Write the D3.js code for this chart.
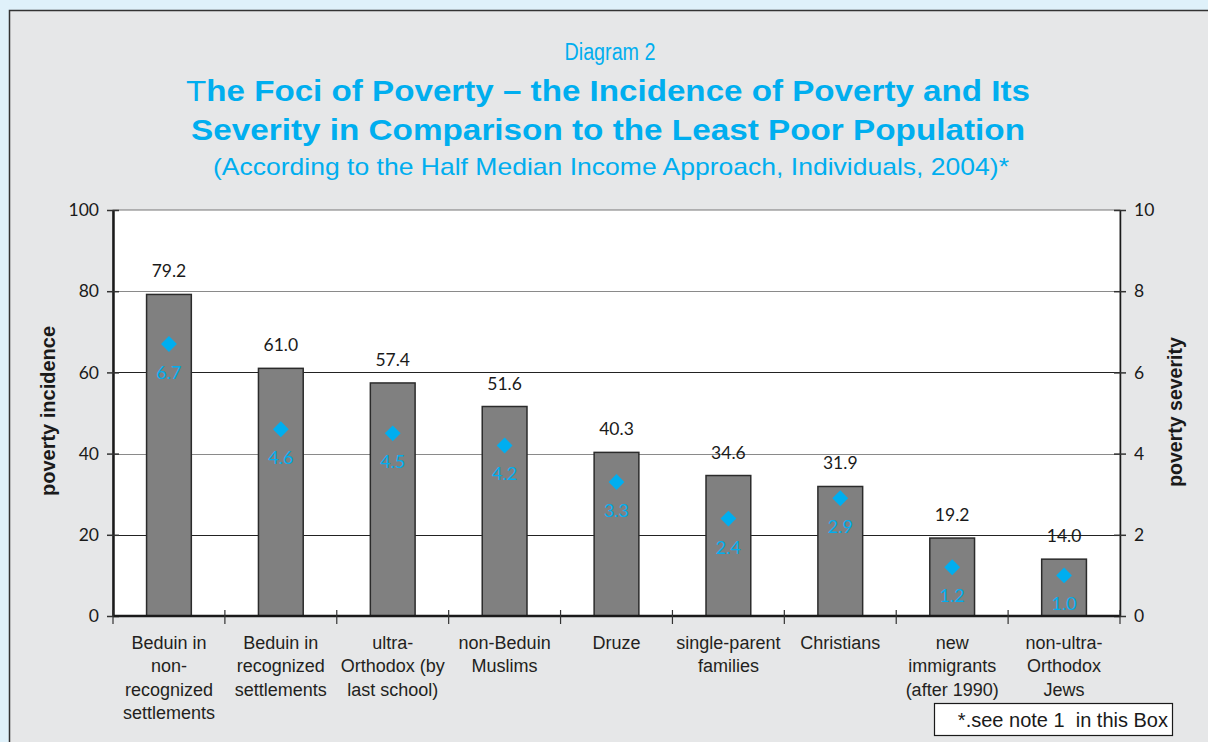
<!DOCTYPE html>
<html>
<head>
<meta charset="utf-8">
<script src="https://cdn.jsdelivr.net/npm/d3@7"></script>
<style>
  html, body { margin: 0; padding: 0; background: #dff1fa; }
  svg { display: block; }
</style>
</head>
<body>
<div id="container"></div>
<script>
"use strict";

const categories = [
  ["Beduin in", "non-", "recognized", "settlements"],
  ["Beduin in", "recognized", "settlements"],
  ["ultra-", "Orthodox (by", "last school)"],
  ["non-Beduin", "Muslims"],
  ["Druze"],
  ["single-parent", "families"],
  ["Christians"],
  ["new", "immigrants", "(after 1990)"],
  ["non-ultra-", "Orthodox", "Jews"]
];
const incidence = [79.2, 61.0, 57.4, 51.6, 40.3, 34.6, 31.9, 19.2, 14.0];
const severity = [6.7, 4.6, 4.5, 4.2, 3.3, 2.4, 2.9, 1.2, 1.0];
const leftTicks = [0, 20, 40, 60, 80, 100];
const rightTicks = [0, 2, 4, 6, 8, 10];

const W = 1208, H = 742;
const plot = { left: 113, right: 1120, top: 210, bottom: 616 };
const cyan = "#00aeef";
const numFont = "Lato, 'DejaVu Sans', sans-serif";
const sansFont = "'Liberation Sans', Arial, sans-serif";

const svg = d3.select("#container").append("svg")
  .attr("width", W).attr("height", H);

// Panel background.
svg.append("rect")
  .attr("x", 9.5).attr("y", 10.5).attr("width", W + 20).attr("height", H + 20)
  .attr("fill", "#e6e7e8").attr("stroke", "#333").attr("stroke-width", 1.5);

// Titles.
const titles = svg.append("g").attr("fill", cyan).style("font-family", sansFont)
  .attr("text-anchor", "middle");
titles.append("text").attr("x", 610).attr("y", 60)
  .style("font-size", "23px").attr("textLength", 91).attr("lengthAdjust", "spacingAndGlyphs")
  .text("Diagram 2");
const t1 = titles.append("text").attr("x", 608).attr("y", 101)
  .style("font-size", "30px").style("font-weight", "bold")
  .attr("textLength", 844).attr("lengthAdjust", "spacingAndGlyphs");
t1.append("tspan").style("font-weight", "normal").text("T");
t1.append("tspan").text("he Foci of Poverty \u2013 the Incidence of Poverty and Its");
titles.append("text").attr("x", 608).attr("y", 140)
  .style("font-size", "30px").style("font-weight", "bold")
  .attr("textLength", 834).attr("lengthAdjust", "spacingAndGlyphs")
  .text("Severity in Comparison to the Least Poor Population");
titles.append("text").attr("x", 611).attr("y", 175)
  .style("font-size", "24px")
  .attr("textLength", 796).attr("lengthAdjust", "spacingAndGlyphs")
  .text("(According to the Half Median Income Approach, Individuals, 2004)*");

// Scales.
const x = d3.scaleBand()
  .domain(d3.range(categories.length))
  .range([plot.left, plot.right])
  .paddingInner(0.6).paddingOuter(0.3);
const yL = d3.scaleLinear().domain([0, 100]).range([plot.bottom, plot.top]);
const yR = d3.scaleLinear().domain([0, 10]).range([plot.bottom, plot.top]);
const step = (plot.right - plot.left) / categories.length;

// Plot area.
svg.append("rect")
  .attr("x", plot.left).attr("y", plot.top)
  .attr("width", plot.right - plot.left).attr("height", plot.bottom - plot.top)
  .attr("fill", "#fff").attr("stroke", "#777").attr("stroke-width", 1);

// Gridlines.
svg.append("g")
  .selectAll("line")
  .data(leftTicks.filter((d) => d > 0 && d < 100))
  .enter()
  .append("line")
  .attr("x1", plot.left).attr("x2", plot.right)
  .attr("y1", (d) => Math.round(yL(d)) + 0.5).attr("y2", (d) => Math.round(yL(d)) + 0.5)
  .attr("stroke", (d) => (d % 40 === 0 ? "#8a8a8a" : "#222"))
  .attr("stroke-width", 1);

// Bars.
svg.append("g")
  .selectAll("rect")
  .data(incidence)
  .enter()
  .append("rect")
  .attr("x", (d, i) => x(i))
  .attr("y", (d) => yL(d))
  .attr("width", x.bandwidth())
  .attr("height", (d) => plot.bottom - yL(d))
  .attr("fill", "#808080")
  .attr("stroke", "#2b2b2b")
  .attr("stroke-width", 1.5);

// Incidence labels.
svg.append("g")
  .selectAll("text")
  .data(incidence)
  .enter()
  .append("text")
  .attr("x", (d, i) => x(i) + x.bandwidth() / 2)
  .attr("y", (d) => yL(d) - 17)
  .attr("text-anchor", "middle")
  .style("font-family", numFont).style("font-size", "17.5px").attr("fill", "#1a1a1a")
  .text((d) => d.toFixed(1));

// Severity diamonds.
svg.append("g")
  .selectAll("path")
  .data(severity)
  .enter()
  .append("path")
  .attr("d", d3.symbol(d3.symbolSquare, 125))
  .attr("transform", (d, i) => `translate(${x(i) + x.bandwidth() / 2},${yR(d)}) rotate(45)`)
  .attr("fill", cyan);

// Severity labels.
svg.append("g")
  .selectAll("text")
  .data(severity)
  .enter()
  .append("text")
  .attr("x", (d, i) => x(i) + x.bandwidth() / 2)
  .attr("y", (d) => yR(d) + 35)
  .attr("text-anchor", "middle")
  .style("font-family", numFont).style("font-size", "18px").attr("fill", cyan)
  .text((d) => d.toFixed(1));

// Left axis.
const leftAxis = svg.append("g")
  .attr("transform", `translate(${plot.left},0)`)
  .call(d3.axisLeft(yL).tickValues(leftTicks).tickSize(6).tickPadding(8).tickSizeOuter(0));
leftAxis.select(".domain").attr("stroke", "#1a1a1a").attr("stroke-width", 2.5);
leftAxis.selectAll(".tick line").attr("x2", 6).attr("x1", -6).attr("stroke", "#333").attr("stroke-width", 1.5);
leftAxis.selectAll(".tick text").style("font-family", numFont).style("font-size", "17.5px").attr("fill", "#1a1a1a");

// Right axis.
const rightAxis = svg.append("g")
  .attr("transform", `translate(${plot.right},0)`)
  .call(d3.axisRight(yR).tickValues(rightTicks).tickSize(6).tickPadding(8).tickSizeOuter(0));
rightAxis.select(".domain").attr("stroke", "#1a1a1a").attr("stroke-width", 1.5);
rightAxis.selectAll(".tick line").attr("x1", -6).attr("x2", 6).attr("stroke", "#333").attr("stroke-width", 1.5);
rightAxis.selectAll(".tick text").style("font-family", numFont).style("font-size", "17.5px").attr("fill", "#1a1a1a");

// Bottom axis with ticks on category boundaries.
const bottom = svg.append("g");
bottom.append("line")
  .attr("x1", plot.left).attr("x2", plot.right)
  .attr("y1", plot.bottom).attr("y2", plot.bottom)
  .attr("stroke", "#1a1a1a").attr("stroke-width", 2.5);
bottom.selectAll(".btick")
  .data(d3.range(categories.length + 1))
  .enter()
  .append("line")
  .attr("class", "btick")
  .attr("x1", (d) => plot.left + d * step).attr("x2", (d) => plot.left + d * step)
  .attr("y1", plot.bottom - 6).attr("y2", plot.bottom + 8)
  .attr("stroke", "#333").attr("stroke-width", 1.2);

// Category labels.
const catLabels = svg.append("g")
  .style("font-family", sansFont).style("font-size", "18px").attr("fill", "#231f20")
  .attr("text-anchor", "middle");
categories.forEach((lines, i) => {
  const t = catLabels.append("text")
    .attr("x", x(i) + x.bandwidth() / 2)
    .attr("y", 649);
  lines.forEach((line, j) => {
    t.append("tspan")
      .attr("x", x(i) + x.bandwidth() / 2)
      .attr("dy", j === 0 ? 0 : 23.3)
      .text(line);
  });
});

// Axis titles.
svg.append("text")
  .attr("transform", "translate(55,411) rotate(-90)")
  .attr("text-anchor", "middle")
  .style("font-family", sansFont).style("font-size", "20px").style("font-weight", "bold")
  .attr("fill", "#1a1a1a")
  .text("poverty incidence");
svg.append("text")
  .attr("transform", "translate(1182,412) rotate(-90)")
  .attr("text-anchor", "middle")
  .style("font-family", sansFont).style("font-size", "19.5px").style("font-weight", "bold")
  .attr("fill", "#1a1a1a")
  .text("poverty severity");

// Note box.
svg.append("rect")
  .attr("x", 934.5).attr("y", 703.5).attr("width", 238).attr("height", 32)
  .attr("fill", "#fff").attr("stroke", "#1a1a1a").attr("stroke-width", 1.2);
svg.append("text")
  .attr("x", 1168).attr("y", 727)
  .attr("text-anchor", "end")
  .style("font-family", sansFont).style("font-size", "20px").attr("fill", "#1a1a1a")
  .attr("xml:space", "preserve")
  .text("*.see note 1  in this Box");
</script>
</body>
</html>
